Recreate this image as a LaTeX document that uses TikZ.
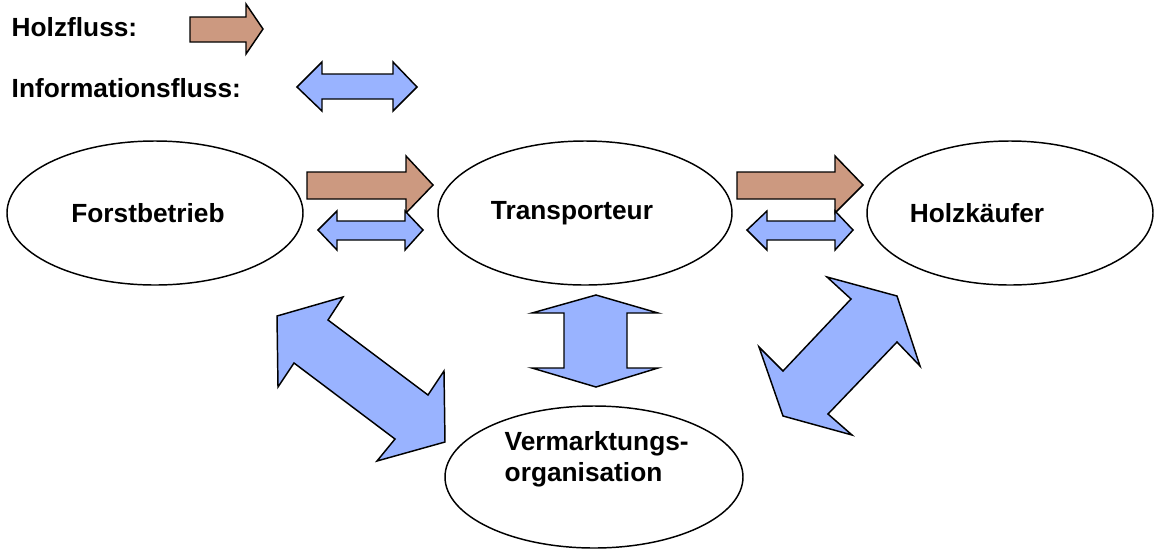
\documentclass[tikz,border=0pt]{standalone}
\usepackage{fontspec}
\setmainfont{Liberation Sans}
\usetikzlibrary{shapes.geometric}

\definecolor{holzbraun}{RGB}{204,153,128}
\definecolor{infoblau}{RGB}{153,179,255}

\tikzset{every picture/.style={line width=1.1pt}}
\tikzset{
  partner/.style={draw,ellipse,inner sep=0pt},
  beschr/.style={inner sep=0.75pt,font=\fontsize{19.7}{23}\selectfont\bfseries},
  holz/.style={draw,fill=holzbraun,line join=miter},
  info/.style={draw,fill=infoblau,line join=miter}
}

\begin{document}
\begin{tikzpicture}[x=0.75pt,y=0.75pt,yscale=-1]
\useasboundingbox (0,0) rectangle (1154,551);

% Legende
\node[beschr,anchor=base west] (lgholz) at (10,36) {Holzfluss:};
\node[beschr,anchor=base west] (lginfo) at (10,97) {Informationsfluss:};
%Right Arrow [legend]
\draw[holz] (190,17) -- (246,17) -- (246,4) -- (263,29) -- (246,54) -- (246,42) -- (190,42) -- cycle ;
%Left Right Arrow [legend]
\draw[info] (297,87) -- (322,62) -- (322,74) -- (393,74) -- (393,62) -- (417,87) -- (393,111) -- (393,99) -- (322,99) -- (322,111) -- cycle ;

% Ellipses
\node[partner,minimum width=222pt,minimum height=108pt] (forst) at (155,213) {};
\node[partner,minimum width=220.5pt,minimum height=108pt] (trans) at (585,213) {};
\node[partner,minimum width=214.5pt,minimum height=108pt] (kaeufer) at (1010,213) {};
\node[partner,minimum width=223.5pt,minimum height=106.5pt] (verm) at (594,477) {};

% Text Node
\node[beschr] (forsttxt) at ([xshift=-5.25pt]forst.center) {Forstbetrieb};
% Text Node
\node[beschr] (transtxt) at ([xshift=-9.75pt]trans.center) {Transporteur};
% Text Node
\node[beschr] (kaeufertxt) at ([xshift=-24.75pt]kaeufer.center) {Holzkäufer};
% Text Node
\node[beschr,align=left,anchor=north west] (vermtxt) at (503,430) {Vermarktungs-\\organisation};

%Right Arrow [Forst -> Trans]
\draw[holz] (307,172) -- (406,172) -- (406,156) -- (433,185) -- (406,213) -- (406,199) -- (307,199) -- cycle ;
%Left Right Arrow [Forst <-> Trans]
\draw[info] (318,230) -- (337,211) -- (337,221) -- (405,221) -- (405,211) -- (423,230) -- (405,250) -- (405,240) -- (337,240) -- (337,250) -- cycle ;
%Right Arrow [Trans -> Kaeufer]
\draw[holz] (737,172) -- (835,172) -- (835,156) -- (863,185) -- (835,213) -- (835,199) -- (737,199) -- cycle ;
%Left Right Arrow [Trans <-> Kaeufer]
\draw[info] (747,230) -- (767,211) -- (767,221) -- (835,221) -- (835,211) -- (853,230) -- (835,250) -- (835,240) -- (767,240) -- (767,250) -- cycle ;
%Up Down Arrow [Trans <-> Verm]
\draw[info] (596,295) -- (658,313) -- (627,313) -- (627,368) -- (658,368) -- (596,387) -- (532,368) -- (564,368) -- (564,313) -- (532,313) -- cycle ;
%Left Right Arrow [Forst <-> Verm]
\draw[info] (277,316) -- (343,297) -- (328,320) -- (428,395) -- (444,371) -- (445,442) -- (377,461) -- (395,439) -- (294,363) -- (278,387) -- cycle ;
%Left Right Arrow [Kaeufer <-> Verm]
\draw[info] (827,277) -- (897,296) -- (920,366) -- (897,342) -- (828,414) -- (852,435) -- (783,416) -- (759,347) -- (783,371) -- (851,299) -- cycle ;

\end{tikzpicture}
\end{document}
